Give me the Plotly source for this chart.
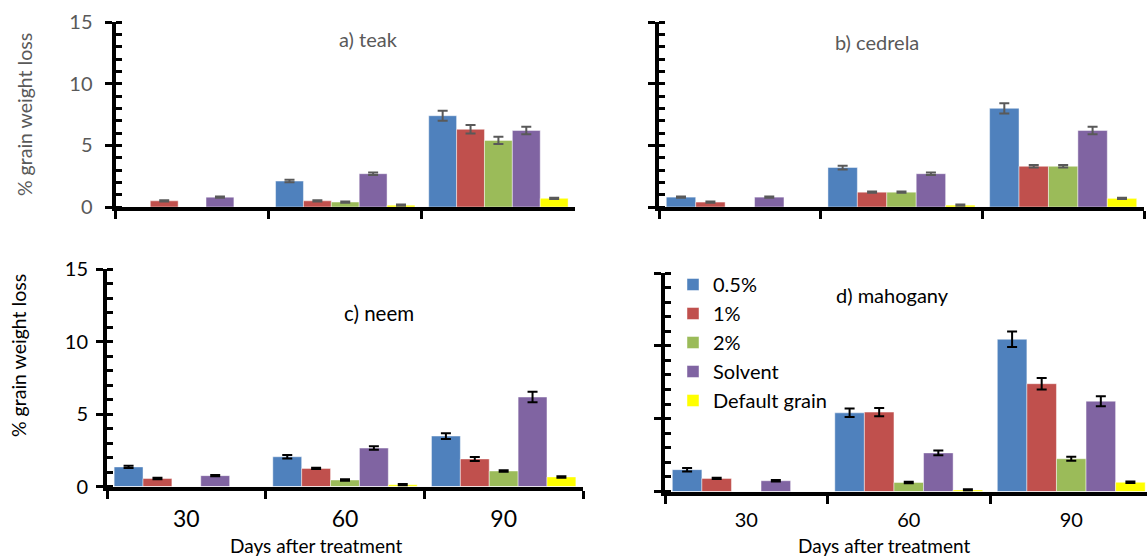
import plotly.graph_objects as go

days = ["30", "60", "90"]
series_names = ["0.5%", "1%", "2%", "Solvent", "Default grain"]
colors = ["#4F81BD", "#C0504D", "#9BBB59", "#8064A2", "#FFFF00"]

# a) teak
teak_vals = [[0, 2.1, 7.4], [0.5, 0.5, 6.3], [0, 0.4, 5.4], [0.8, 2.7, 6.2], [0, 0.15, 0.7]]
teak_err = [[0, 0.1, 0.4], [0.05, 0.05, 0.35], [0, 0.05, 0.3], [0.05, 0.1, 0.3], [0, 0.05, 0.05]]
# b) cedrela
cedrela_vals = [[0.8, 3.2, 8.0], [0.4, 1.2, 3.3], [0, 1.2, 3.3], [0.8, 2.7, 6.2], [0, 0.15, 0.7]]
cedrela_err = [[0.05, 0.15, 0.42], [0.05, 0.05, 0.1], [0, 0.05, 0.1], [0.05, 0.1, 0.3], [0, 0.05, 0.05]]
# c) neem
neem_vals = [[1.35, 2.05, 3.48], [0.55, 1.25, 1.9], [0, 0.45, 1.07], [0.75, 2.65, 6.17], [0, 0.12, 0.66]]
neem_err = [[0.08, 0.12, 0.2], [0.05, 0.05, 0.14], [0, 0.05, 0.05], [0.05, 0.12, 0.36], [0, 0.05, 0.05]]
# d) mahogany
mahog_vals = [[1.5, 5.4, 10.45], [0.9, 5.45, 7.4], [0, 0.62, 2.25], [0.74, 2.65, 6.2], [0, 0.1, 0.63]]
mahog_err = [[0.12, 0.29, 0.53], [0.05, 0.29, 0.39], [0, 0.05, 0.14], [0.05, 0.16, 0.34], [0, 0.05, 0.05]]

W, H = 1147, 556
FONT = "Lato"
GRAY = "#595959"

def px(x):
    return x / W

def py(y):
    return 1 - y / H

panels = [
    dict(vals=teak_vals, err=teak_err, xa="x", ya="y", ecolor=GRAY, legend=False),
    dict(vals=cedrela_vals, err=cedrela_err, xa="x2", ya="y2", ecolor=GRAY, legend=False),
    dict(vals=neem_vals, err=neem_err, xa="x3", ya="y3", ecolor="black", legend=False),
    dict(vals=mahog_vals, err=mahog_err, xa="x4", ya="y4", ecolor="black", legend=True),
]

fig = go.Figure()
for p in panels:
    for i, name in enumerate(series_names):
        # zero values draw no bar and no error bar (as in the original chart)
        yv = [v if v != 0 else None for v in p["vals"][i]]
        ev = [e if v != 0 else None for v, e in zip(p["vals"][i], p["err"][i])]
        fig.add_trace(go.Bar(
            x=days, y=yv, name=name,
            marker=dict(color=colors[i], line=dict(color="rgba(255,255,255,0.45)", width=1)),
            error_y=dict(type="data", array=ev, visible=True,
                         color=p["ecolor"], thickness=2, width=5),
            xaxis=p["xa"], yaxis=p["ya"], showlegend=p["legend"],
        ))

def yax(domain, show_labels, lab_color, standoff):
    return dict(
        domain=domain, range=[0, 15], dtick=5, tick0=0,
        showline=True, linecolor="black", linewidth=4,
        ticks="outside", ticklen=7, tickwidth=3, tickcolor="black",
        minor=dict(ticks="inside", dtick=1, ticklen=6, tickwidth=3, tickcolor="black", showgrid=False),
        showgrid=False, zeroline=False, automargin=False,
        showticklabels=show_labels, ticklabelstandoff=standoff,
        tickfont=dict(family=FONT, size=20, color=lab_color),
        fixedrange=True,
    )

def xax(domain, anchor, show_labels, rng, fsize, standoff):
    return dict(
        domain=domain, anchor=anchor, type="category", range=rng,
        tickson="boundaries", showline=True, linecolor="black", linewidth=4,
        ticks="outside", ticklen=8, tickwidth=3, tickcolor="black",
        showgrid=False, zeroline=False, automargin=False,
        showticklabels=show_labels, ticklabelstandoff=standoff,
        tickfont=dict(family=FONT, size=fsize, color="black"),
    )

fig.update_layout(
    width=W, height=H,
    margin=dict(l=0, r=0, t=0, b=0),
    paper_bgcolor="white", plot_bgcolor="white",
    barmode="group", bargap=0.09, bargroupgap=0,
    font=dict(family=FONT, color="black"),
    xaxis=xax([px(115.5), px(575)], "y", False, [-0.5, 2.5], 20, 10),
    yaxis=yax([py(207), py(22)], True, GRAY, 8) | dict(anchor="x"),
    xaxis2=xax([px(659), px(1144)], "y2", False, [-0.5, 2.5], 20, 10),
    yaxis2=yax([py(207), py(22)], False, GRAY, 8) | dict(anchor="x2"),
    xaxis3=xax([px(107), px(583)], "y3", True, [-0.5, 2.5], 23, 9),
    yaxis3=yax([py(486.5), py(269)], True, "black", 4) | dict(anchor="x3"),
    xaxis4=xax([px(665), 1.0], "y4", True, [-0.5, -0.5 + (W - 665) / 162.5], 20, 7),
    yaxis4=yax([py(491.5), py(273)], False, "black", 4) | dict(anchor="x4"),
    legend=dict(x=px(673), y=py(265), xanchor="left", yanchor="top",
                font=dict(family=FONT, size=20, color="black"),
                bgcolor="rgba(0,0,0,0)", traceorder="normal"),
)

ann = [
    dict(text="a) teak", x=px(368), y=py(39), size=20, color=GRAY, angle=0),
    dict(text="b) cedrela", x=px(877), y=py(42), size=20, color=GRAY, angle=0),
    dict(text="c) neem", x=px(379), y=py(313), size=20.5, color="black", angle=0),
    dict(text="d) mahogany", x=px(892), y=py(295), size=20, color="black", angle=0),
    dict(text="% grain weight loss", x=px(24), y=py(115), size=19.5, color=GRAY, angle=-90),
    dict(text="% grain weight loss", x=px(18), y=py(356), size=19.5, color="black", angle=-90),
    dict(text="Days after treatment", x=px(316), y=py(545.5), size=19, color="black", angle=0),
    dict(text="Days after treatment", x=px(884), y=py(545.5), size=19, color="black", angle=0),
]
for a in ann:
    fig.add_annotation(text=a["text"], x=a["x"], y=a["y"], xref="paper", yref="paper",
                       xanchor="center", yanchor="middle", showarrow=False, textangle=a["angle"],
                       font=dict(family=FONT, size=a["size"], color=a["color"]))

fig.write_html("out.html")
